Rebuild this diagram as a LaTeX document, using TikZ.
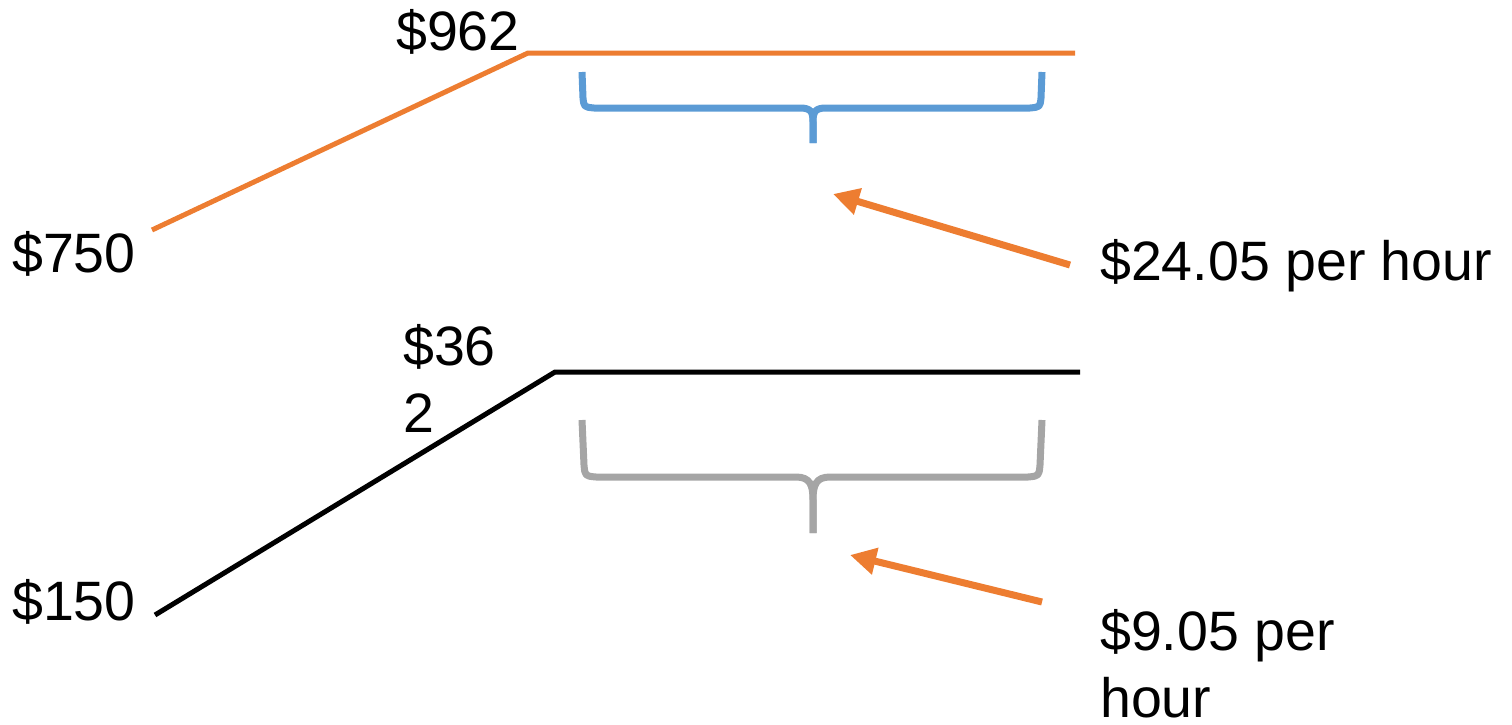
\documentclass[tikz,border=0pt]{standalone}
\usepackage{fontspec}
\setmainfont{Liberation Sans}
\usetikzlibrary{arrows.meta}
\definecolor{myorange}{HTML}{ED7D31}
\definecolor{myblue}{HTML}{5B9BD5}
\definecolor{mygray}{HTML}{A5A5A5}
\begin{document}
\begin{tikzpicture}[x=1pt,y=-1pt,
  lbl/.style={anchor=base west,inner sep=0pt,font=\fontsize{55.5}{67}\selectfont,align=left},
  tier/.style={line width=5pt},
  bracepath/.style={line width=7pt,line cap=butt,line join=round},
  pointer/.style={myorange,line width=7pt,-{Triangle[length=26pt,width=26pt]}}]
\useasboundingbox (0,0) rectangle (1512,724);
% orange line
\coordinate (o1) at (152,230);
\coordinate (o2) at (528,53);
\coordinate (o3) at (1075,53);
\draw[tier,myorange] (o1) -- (o2) -- (o3);
% black line
\coordinate (k1) at (155,615);
\coordinate (k2) at (555,372);
\coordinate (k3) at (1080,372);
\draw[tier,black] (k1) -- (k2) -- (k3);
% blue brace
\coordinate (bl) at (582,72);
\coordinate (bt) at (813,143);
\coordinate (br) at (1042,72);
\draw[bracepath,myblue] (bl) -- (583,98) .. controls (584,107) .. (594,108) -- (800,108)
  .. controls (811,108) and (813,112) .. (813,122) -- (bt);
\draw[bracepath,myblue] (br) -- (1041,98) .. controls (1040,107) .. (1030,108) -- (826,108)
  .. controls (815,108) and (813,112) .. (813,122) -- (bt);
% gray brace
\coordinate (gl) at (582,420);
\coordinate (gt) at (813,533);
\coordinate (gr) at (1042,420);
\draw[bracepath,mygray] (gl) -- (584,465) .. controls (585,476) .. (596,477) -- (796,477)
  .. controls (810,477) and (813,485) .. (813,500) -- (gt);
\draw[bracepath,mygray] (gr) -- (1040,465) .. controls (1039,476) .. (1028,477) -- (830,477)
  .. controls (816,477) and (813,485) .. (813,500) -- (gt);
% texts
\node[lbl] (t962) at (396,50) {\$962};
\node[lbl] (t750) at (12,272) {\$750};
\node[lbl] (t2405) at (1100,280) {\$24.05 per hour};
\node[lbl] (t362) at (403,432) {\$36\\2};
\node[lbl] (t150) at (12,620) {\$150};
\node[lbl] (t905) at (1100,717) {\$9.05 per\\hour};
% arrows
\coordinate (a1s) at (1070,265);
\coordinate (a1e) at (833,194);
\coordinate (a2s) at (1042,602);
\coordinate (a2e) at (850,555);
\draw[pointer] (a1s) -- (a1e);
\draw[pointer] (a2s) -- (a2e);
\end{tikzpicture}
\end{document}
